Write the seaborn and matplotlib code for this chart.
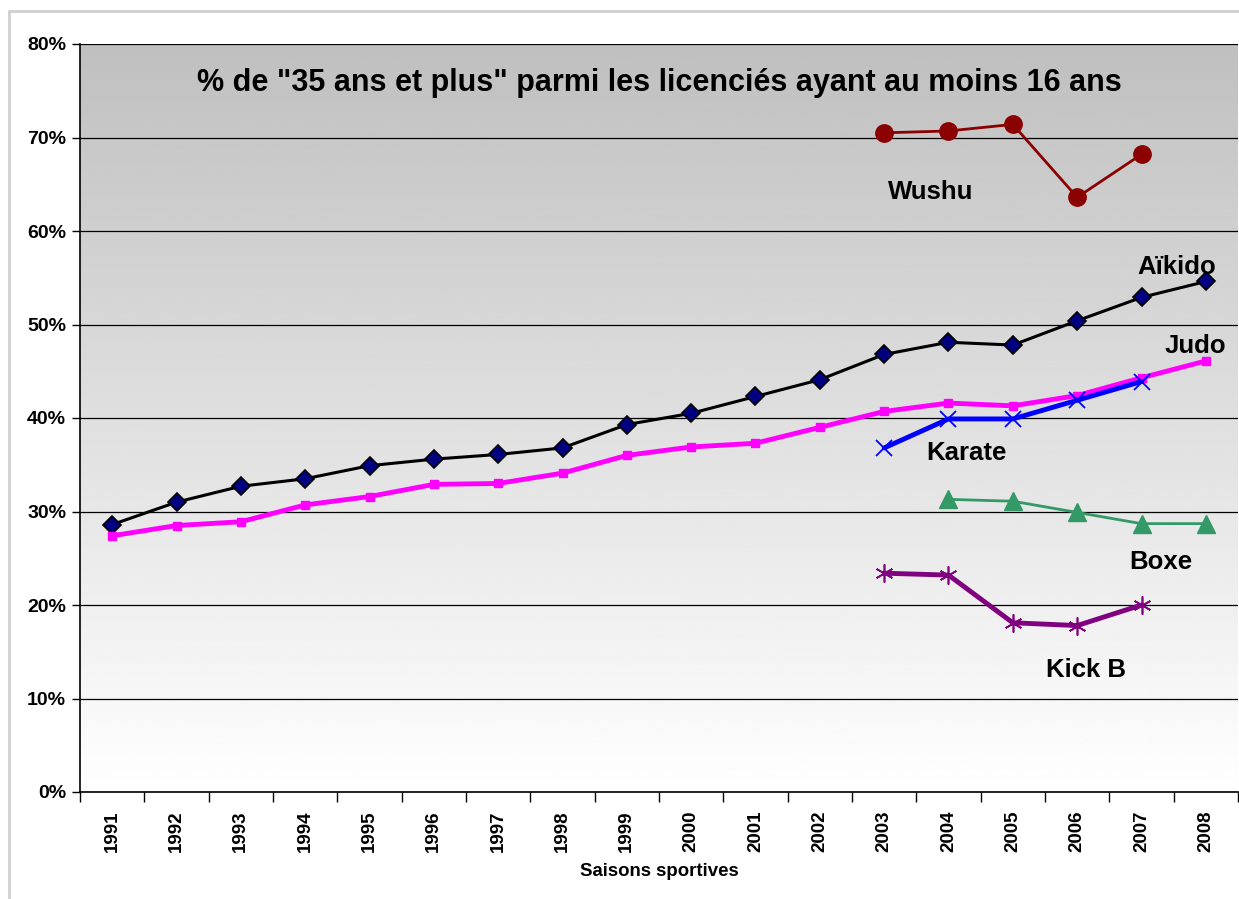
import numpy as np
import pandas as pd
import matplotlib
matplotlib.use("Agg")
import matplotlib.pyplot as plt
from matplotlib.patches import Rectangle
from matplotlib.ticker import FixedLocator
import seaborn as sns

years = [str(y) for y in range(1991, 2009)]
nan = np.nan
aikido = [28.6, 31.0, 32.7, 33.5, 34.9, 35.6, 36.1, 36.8, 39.3, 40.5, 42.3, 44.1,
          46.8, 48.1, 47.8, 50.4, 52.9, 54.6]
judo = [27.4, 28.5, 28.9, 30.7, 31.6, 32.9, 33.0, 34.1, 36.0, 36.9, 37.3, 39.0,
        40.7, 41.6, 41.3, 42.4, 44.3, 46.1]
karate = [nan] * 12 + [36.8, 39.9, 39.9, 41.9, 43.9, nan]
wushu = [nan] * 12 + [70.5, 70.7, 71.4, 63.6, 68.2, nan]
boxe = [nan] * 13 + [31.3, 31.1, 29.9, 28.7, 28.7]
kickb = [nan] * 12 + [23.4, 23.2, 18.1, 17.8, 20.0, nan]

title = '% de "35 ans et plus" parmi les licenciés ayant au moins 16 ans'

d = pd.DataFrame({"pos": np.arange(len(years)), "Aïkido": aikido, "Judo": judo,
                  "Karate": karate, "Wushu": wushu, "Boxe": boxe, "Kick B": kickb})

sns.set_theme(style="white")
plt.rcParams["font.family"] = ["Liberation Sans", "DejaVu Sans"]
plt.rcParams["font.weight"] = "bold"
plt.rcParams["text.color"] = "black"
plt.rcParams["xtick.color"] = "black"
plt.rcParams["ytick.color"] = "black"
plt.rcParams["axes.labelcolor"] = "black"

fig = plt.figure(figsize=(12.39, 8.99), dpi=100)
ax = fig.add_axes([80 / 1239, 1 - 792 / 899, 1158 / 1239, 748 / 899])

# gray (top) to white (bottom) background gradient
grad = np.linspace(0.75, 1.0, 256).reshape(-1, 1)
ax.imshow(grad, cmap="gray", vmin=0, vmax=1, aspect="auto", origin="upper",
          extent=[0, 1, 0, 1], transform=ax.transAxes, zorder=0)

styles = {
    "Aïkido": dict(color="black", lw=2.2, marker="D", ms=9.5, mfc="#000080", mec="black", mew=1.2),
    "Judo": dict(color="#ff00ff", lw=3.5, marker="s", ms=6, mfc="#ff00ff", mec="#ff00ff"),
    "Karate": dict(color="#0000ff", lw=3.5, marker="x", ms=12, mfc="#0000ff", mec="#0000ff", mew=1.3),
    "Wushu": dict(color="#8b0000", lw=2, marker="o", ms=12.5, mfc="#8b0000", mec="#8b0000"),
    "Boxe": dict(color="#339966", lw=2, marker="^", ms=13, mfc="#339966", mec="#339966"),
    "Kick B": dict(color="#800080", lw=3.5, marker=(6, 2, 0), ms=13, mfc="#800080", mec="#800080", mew=1.2),
}
for name, st in styles.items():
    sub = d[["pos", name]].dropna()
    sns.lineplot(data=sub, x="pos", y=name, ax=ax, color=st["color"], linewidth=st["lw"],
                 marker=st["marker"], markersize=st["ms"], markerfacecolor=st["mfc"],
                 markeredgecolor=st["mec"], markeredgewidth=st.get("mew", 1), zorder=3)

ax.set_xlim(-0.5, len(years) - 0.5)
ax.set_ylim(0, 80)
ax.set_yticks(range(0, 81, 10))
ax.set_yticklabels([f"{v}%" for v in range(0, 81, 10)], fontsize=14, fontweight="bold")
ax.set_xticks(range(len(years)))
ax.set_xticklabels(years, rotation=90, fontsize=13.5, fontweight="bold")
ax.xaxis.set_minor_locator(FixedLocator(np.arange(-0.5, len(years), 1)))
ax.tick_params(axis="x", which="major", length=0, pad=13)
ax.tick_params(axis="x", which="minor", length=7, width=1, color="black", direction="out", bottom=True)
ax.tick_params(axis="y", length=6, width=1, color="black", direction="out", left=True, pad=4)
ax.yaxis.grid(True, color="black", lw=0.9)
for g in ax.get_ygridlines():
    g.set_zorder(1)
ax.set_xlabel("Saisons sportives", fontsize=13.4, fontweight="bold", labelpad=8)
ax.set_ylabel("")
for s in ["top", "right"]:
    ax.spines[s].set_visible(False)
for s in ["left", "bottom"]:
    ax.spines[s].set_color("black")
    ax.spines[s].set_linewidth(1.2)

ax.text(0.5, 0.948, title, transform=ax.transAxes, ha="center", va="center",
        fontsize=22, fontweight="bold", zorder=4)

labels = [("Wushu", 12.72, 64.2), ("Aïkido", 16.54, 56.1), ("Judo", 16.83, 47.7),
          ("Karate", 13.28, 36.3), ("Boxe", 16.3, 24.6), ("Kick B", 15.13, 13.1)]
for txt, xp, yp in labels:
    ax.text(xp, yp, txt, fontsize=18.5, fontweight="bold", ha="center", va="center", zorder=4)

fig.patches.append(Rectangle((9 / 1239, -0.1), 1.2, 1 - 11 / 899 + 0.1, transform=fig.transFigure,
                             fill=False, edgecolor="#d0d0d0", linewidth=2, zorder=-1))

fig.savefig("out.png", dpi=100)
